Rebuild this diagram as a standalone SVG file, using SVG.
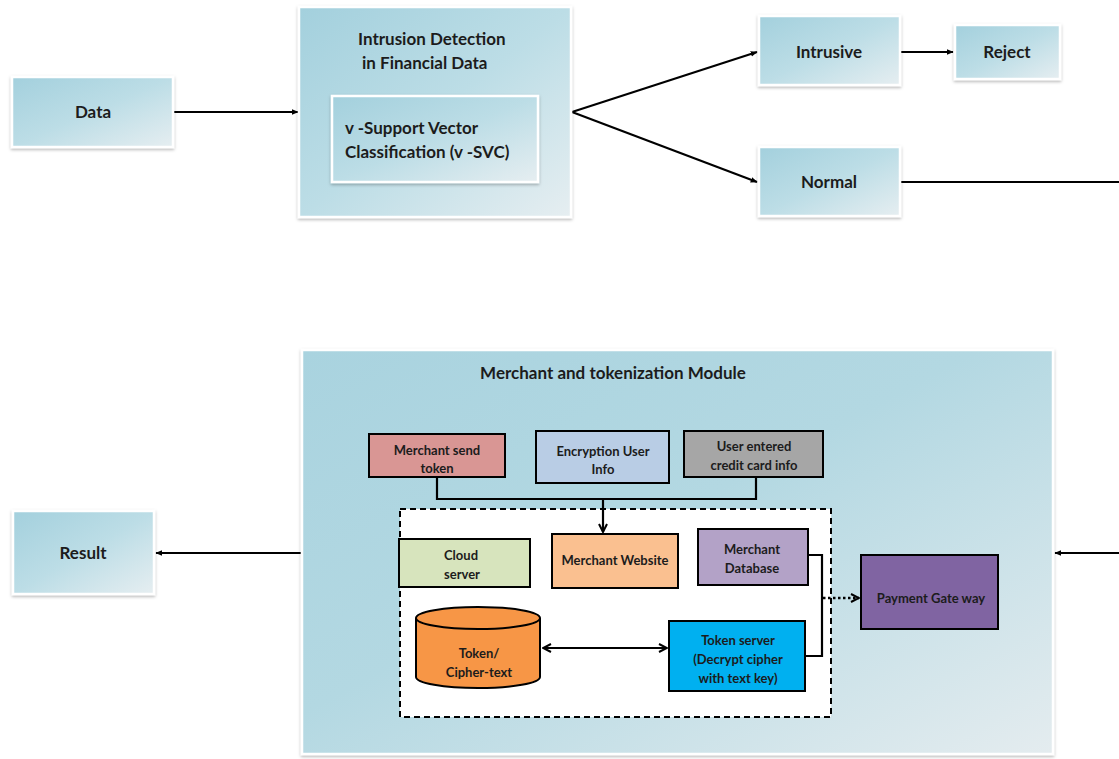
<svg xmlns="http://www.w3.org/2000/svg" width="1119" height="759" viewBox="0 0 1119 759">
<defs>
<linearGradient id="blue" x1="0" y1="0" x2="1" y2="1">
<stop offset="0" stop-color="#a3d0dd"/>
<stop offset="0.5" stop-color="#bcdde6"/>
<stop offset="1" stop-color="#e6eef1"/>
</linearGradient>
<linearGradient id="big" x1="0" y1="0" x2="1" y2="1">
<stop offset="0" stop-color="#a9d3df"/>
<stop offset="0.45" stop-color="#b3d8e2"/>
<stop offset="1" stop-color="#e4ecef"/>
</linearGradient>
<filter id="sh" x="-10%" y="-10%" width="120%" height="120%">
<feDropShadow dx="0" dy="1.5" stdDeviation="1.5" flood-color="#000" flood-opacity="0.3"/>
</filter>
<marker id="ah" viewBox="0 0 10 10" refX="9" refY="5" markerWidth="7" markerHeight="7" orient="auto-start-reverse" markerUnits="userSpaceOnUse">
<path d="M0,1 L10,5 L0,9 z" fill="#000"/>
</marker>
<marker id="chev" viewBox="0 0 10 10" refX="9" refY="5" markerWidth="10" markerHeight="10" orient="auto-start-reverse" markerUnits="userSpaceOnUse">
<path d="M1,1 L9,5 L1,9" fill="none" stroke="#000" stroke-width="2"/>
</marker>
<style>
.bx{fill:url(#blue);stroke:#fff;stroke-width:2.5;filter:url(#sh)}
.t{font-family:Lato,"Liberation Sans",sans-serif;font-weight:bold;fill:#1c1c1c}
.lg{font-size:17px}
.sm{font-size:13px}
.c{text-anchor:middle}
.in{stroke:#000;stroke-width:2}
.ln{stroke:#000;stroke-width:2.2;fill:none}
</style>
</defs>
<g id="connectors">
<line class="ln" x1="174" y1="112" x2="298" y2="112" marker-end="url(#ah)"/>
<line class="ln" x1="572" y1="112" x2="757" y2="52" marker-end="url(#ah)"/>
<line class="ln" x1="572" y1="112" x2="757" y2="182" marker-end="url(#ah)"/>
<line class="ln" x1="901" y1="52" x2="953" y2="52" marker-end="url(#ah)"/>
<line class="ln" x1="901" y1="182" x2="1119" y2="182"/>
<line class="ln" x1="1119" y1="553" x2="1055" y2="553" marker-end="url(#ah)"/>
<line class="ln" x1="302" y1="553" x2="156" y2="553" marker-end="url(#ah)"/>
</g>
<g id="data"><rect class="bx" x="12" y="77" width="161" height="70"/><text class="t lg c" x="93" y="118">Data</text></g>
<g id="intrusion-detection"><rect class="bx" x="299" y="7" width="272" height="210"/>
<text class="t lg" x="358" y="45">Intrusion Detection</text>
<text class="t lg" x="362" y="69">in Financial Data</text></g>
<g id="nu-svc"><rect class="bx" x="332" y="96" width="206" height="86"/>
<text class="t lg" x="345" y="134">v -Support Vector</text>
<text class="t lg" x="345" y="158">Classification (v -SVC)</text></g>
<g id="intrusive"><rect class="bx" x="759" y="16" width="141" height="69"/><text class="t lg c" x="829" y="58">Intrusive</text></g>
<g id="reject"><rect class="bx" x="955" y="25" width="105" height="54"/><text class="t lg c" x="1007" y="58">Reject</text></g>
<g id="normal"><rect class="bx" x="759" y="147" width="141" height="69"/><text class="t lg c" x="829" y="188">Normal</text></g>
<g id="result"><rect class="bx" x="13" y="511" width="141" height="83"/><text class="t lg c" x="83" y="559">Result</text></g>
<g id="module"><rect x="302" y="350" width="751" height="404" fill="url(#big)" stroke="#fff" stroke-width="2.5" filter="url(#sh)"/>
<text class="t lg c" x="613" y="379">Merchant and tokenization Module</text></g>
<g id="dashed-region"><rect x="400" y="509" width="431" height="208" fill="#fff" stroke="#000" stroke-width="2" stroke-dasharray="6,4"/></g>
<g id="module-connectors">
<polyline class="ln" points="437,477 437,499 756,499 756,477"/>
<line class="ln" x1="603" y1="499" x2="603" y2="532" marker-end="url(#chev)"/>
<polyline class="ln" points="808,555 822,555 822,656 806,656"/>
<line x1="823" y1="598" x2="859" y2="598" stroke="#000" stroke-width="2.5" stroke-dasharray="2.5,2.5" marker-end="url(#chev)"/>
<line class="ln" x1="543" y1="648" x2="667" y2="648" marker-start="url(#chev)" marker-end="url(#chev)"/>
</g>
<g id="merchant-send-token"><rect class="in" x="369" y="434" width="136" height="43" fill="#d99694"/>
<text class="t sm c" x="437" y="455">Merchant send</text><text class="t sm c" x="437" y="473">token</text></g>
<g id="encryption-user-info"><rect class="in" x="536" y="431" width="133" height="52" fill="#b9cde5"/>
<text class="t sm c" x="603" y="456">Encryption User</text><text class="t sm c" x="603" y="474">Info</text></g>
<g id="user-entered"><rect class="in" x="684" y="431" width="139" height="46" fill="#a6a6a6"/>
<text class="t sm c" x="754" y="451">User entered</text><text class="t sm c" x="754" y="470">credit card info</text></g>
<g id="cloud-server"><rect class="in" x="399" y="539" width="131" height="48" fill="#d7e4bd"/>
<text class="t sm" x="444" y="560">Cloud</text><text class="t sm" x="444" y="579">server</text></g>
<g id="merchant-website"><rect class="in" x="552" y="534" width="126" height="54" fill="#fac090"/>
<text class="t sm c" x="615" y="565">Merchant Website</text></g>
<g id="merchant-database"><rect class="in" x="698" y="529" width="110" height="56" fill="#b3a2c7"/>
<text class="t sm c" x="752" y="554">Merchant</text><text class="t sm c" x="752" y="573">Database</text></g>
<g id="payment-gateway"><rect class="in" x="861" y="555" width="137" height="74" fill="#8064a2"/>
<text class="t sm c" x="931" y="603">Payment Gate way</text></g>
<g id="token-cipher"><path d="M416,618 v59 a62,11 0 0 0 124,0 v-59" fill="#f79646" stroke="#000" stroke-width="2"/>
<ellipse cx="478" cy="618" rx="62" ry="11" fill="#f79646" stroke="#000" stroke-width="2"/>
<text class="t sm c" x="479" y="658">Token/</text><text class="t sm c" x="479" y="677">Cipher-text</text></g>
<g id="token-server"><rect class="in" x="669" y="621" width="136" height="70" fill="#00b0f0"/>
<text class="t sm c" x="738" y="645">Token server</text><text class="t sm c" x="738" y="664">(Decrypt cipher</text><text class="t sm c" x="738" y="683">with text key)</text></g>
</svg>
